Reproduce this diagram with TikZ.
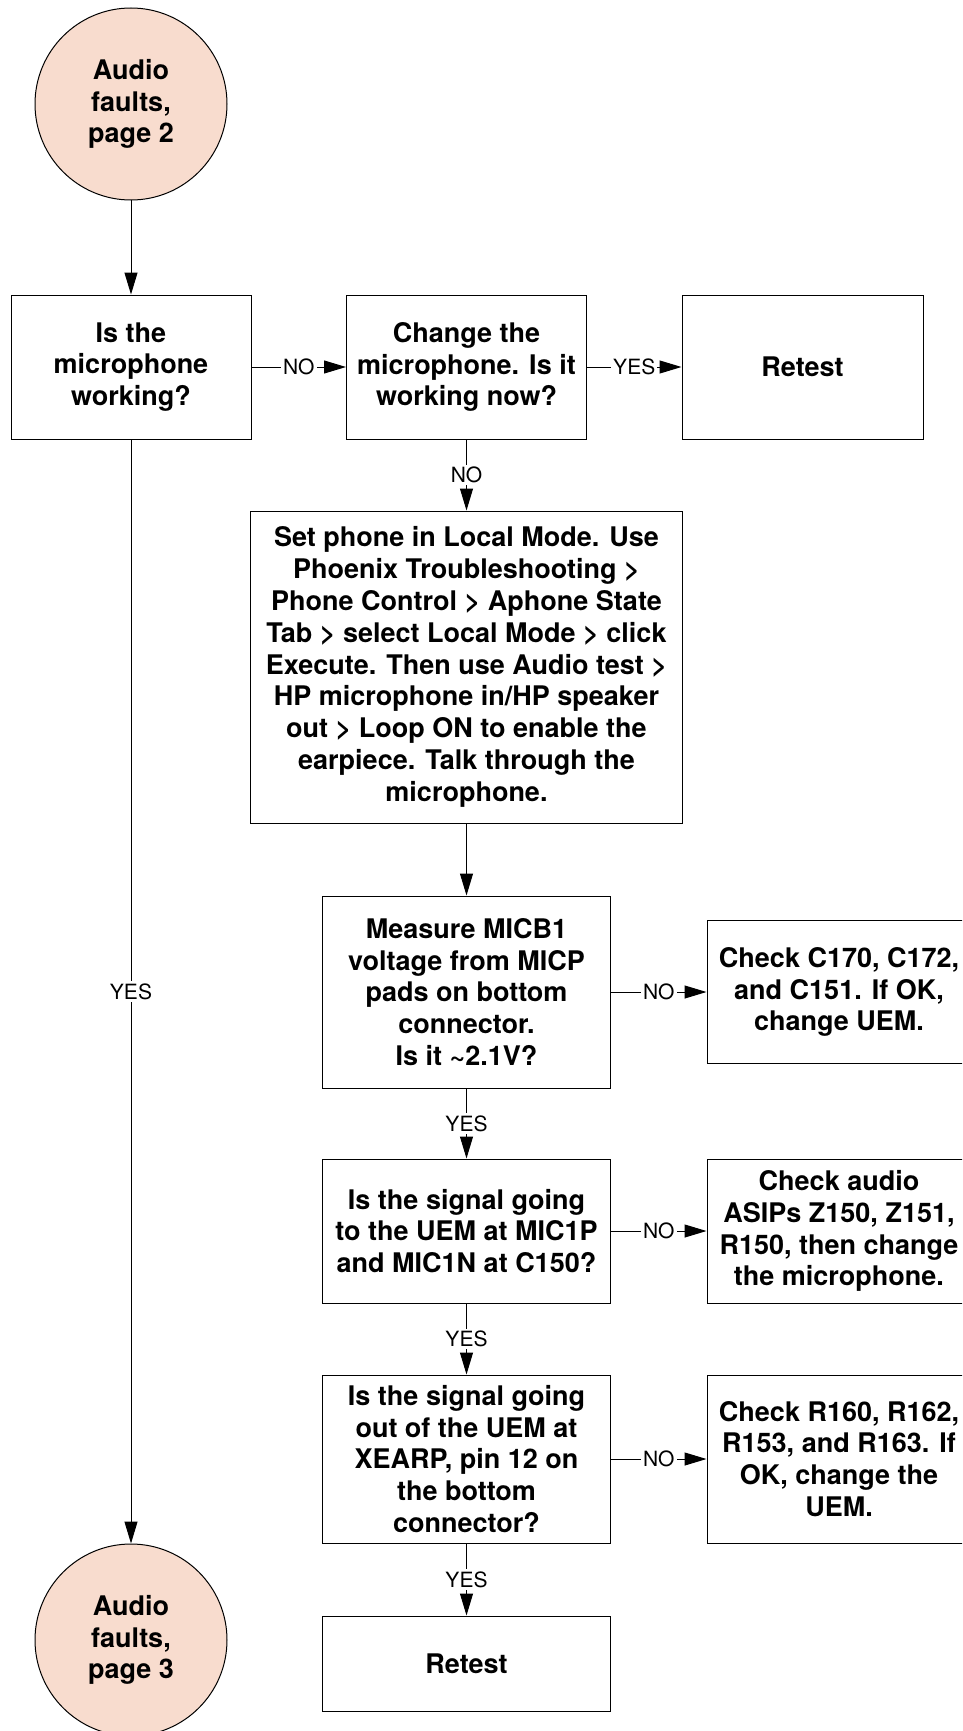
\documentclass[tikz,border=0pt]{standalone}
\usepackage{fontspec}
\setmainfont{TeX Gyre Heros}
\usetikzlibrary{arrows.meta}
\definecolor{peach}{RGB}{248,220,206}
\begin{document}
\begin{tikzpicture}[x=1pt,y=-1pt,
  txt/.style={font=\fontsize{27}{31.8}\selectfont\bfseries, align=center},
  box/.style={txt, draw, line width=1pt, inner sep=0pt},
  term/.style={txt, circle, draw, line width=1pt, fill=peach, minimum size=192pt, inner sep=0pt},
  lbl/.style={fill=white, inner sep=2pt, font=\fontsize{21}{24}\selectfont},
  flow/.style={line width=1pt, -{Triangle[length=22pt,width=13pt]}}
]
\path[use as bounding box, clip] (0,0) rectangle (962,1731);

% start / end connectors
\node[term] (start) at (131,104) {Audio\\faults,\\page 2};
\node[term] (next) at (131,1640) {Audio\\faults,\\page 3};

% top row
\node[box, minimum width=240pt, minimum height=144pt] (mic) at (131,367)
  {Is the\\microphone\\working?};
\node[box, minimum width=240pt, minimum height=144pt] (change) at (466.5,367)
  {Change the\\microphone. Is it\\working now?};
\node[box, minimum width=241pt, minimum height=144pt] (retestA) at (802.5,367)
  {Retest};

% local mode instructions
\node[box, minimum width=432pt, minimum height=312pt] (local) at (466.5,667)
  {Set phone in Local Mode. Use\\Phoenix Troubleshooting >\\Phone Control > Aphone State\\Tab > select Local Mode > click\\Execute. Then use Audio test >\\HP microphone in/HP speaker\\out > Loop ON to enable the\\earpiece. Talk through the\\microphone.};

% measurement chain
\node[box, minimum width=288pt, minimum height=192pt] (micb) at (466.5,992)
  {Measure MICB1\\voltage from MICP\\pads on bottom\\connector.\\Is it \textasciitilde2.1V?};
\node[box, minimum width=264pt, minimum height=143pt] (capchk) at (839,992)
  {Check C170, C172,\\and C151. If OK,\\change UEM.};

\node[box, minimum width=288pt, minimum height=144pt] (sigin) at (466.5,1231)
  {Is the signal going\\to the UEM at MIC1P\\and MIC1N at C150?};
\node[box, minimum width=264pt, minimum height=144pt] (asip) at (839,1231)
  {Check audio\\ASIPs Z150, Z151,\\R150, then change\\the microphone.};

\node[box, minimum width=288pt, minimum height=168pt] (sigout) at (466.5,1459)
  {Is the signal going\\out of the UEM at\\XEARP, pin 12 on\\the bottom\\connector?};
\node[box, minimum width=264pt, minimum height=168pt] (reschk) at (839,1459)
  {Check R160, R162,\\R153, and R163. If\\OK, change the\\UEM.};

\node[box, minimum width=288pt, minimum height=95pt] (retestB) at (466.5,1663.5)
  {Retest};

% connectors
\draw[flow] (start) -- (mic);
\draw[flow] (mic) -- node[lbl]{NO} (change);
\draw[flow] (change) -- node[lbl]{YES} (retestA);
\draw[flow] (change) -- node[lbl]{NO} (local);
\draw[flow] (mic) -- node[lbl]{YES} (next);
\draw[flow] (local) -- (micb);
\draw[flow] (micb) -- node[lbl]{NO} (capchk);
\draw[flow] (micb) -- node[lbl]{YES} (sigin);
\draw[flow] (sigin) -- node[lbl]{NO} (asip);
\draw[flow] (sigin) -- node[lbl]{YES} (sigout);
\draw[flow] (sigout) -- node[lbl]{NO} (reschk);
\draw[flow] (sigout) -- node[lbl]{YES} (retestB);
\end{tikzpicture}
\end{document}
